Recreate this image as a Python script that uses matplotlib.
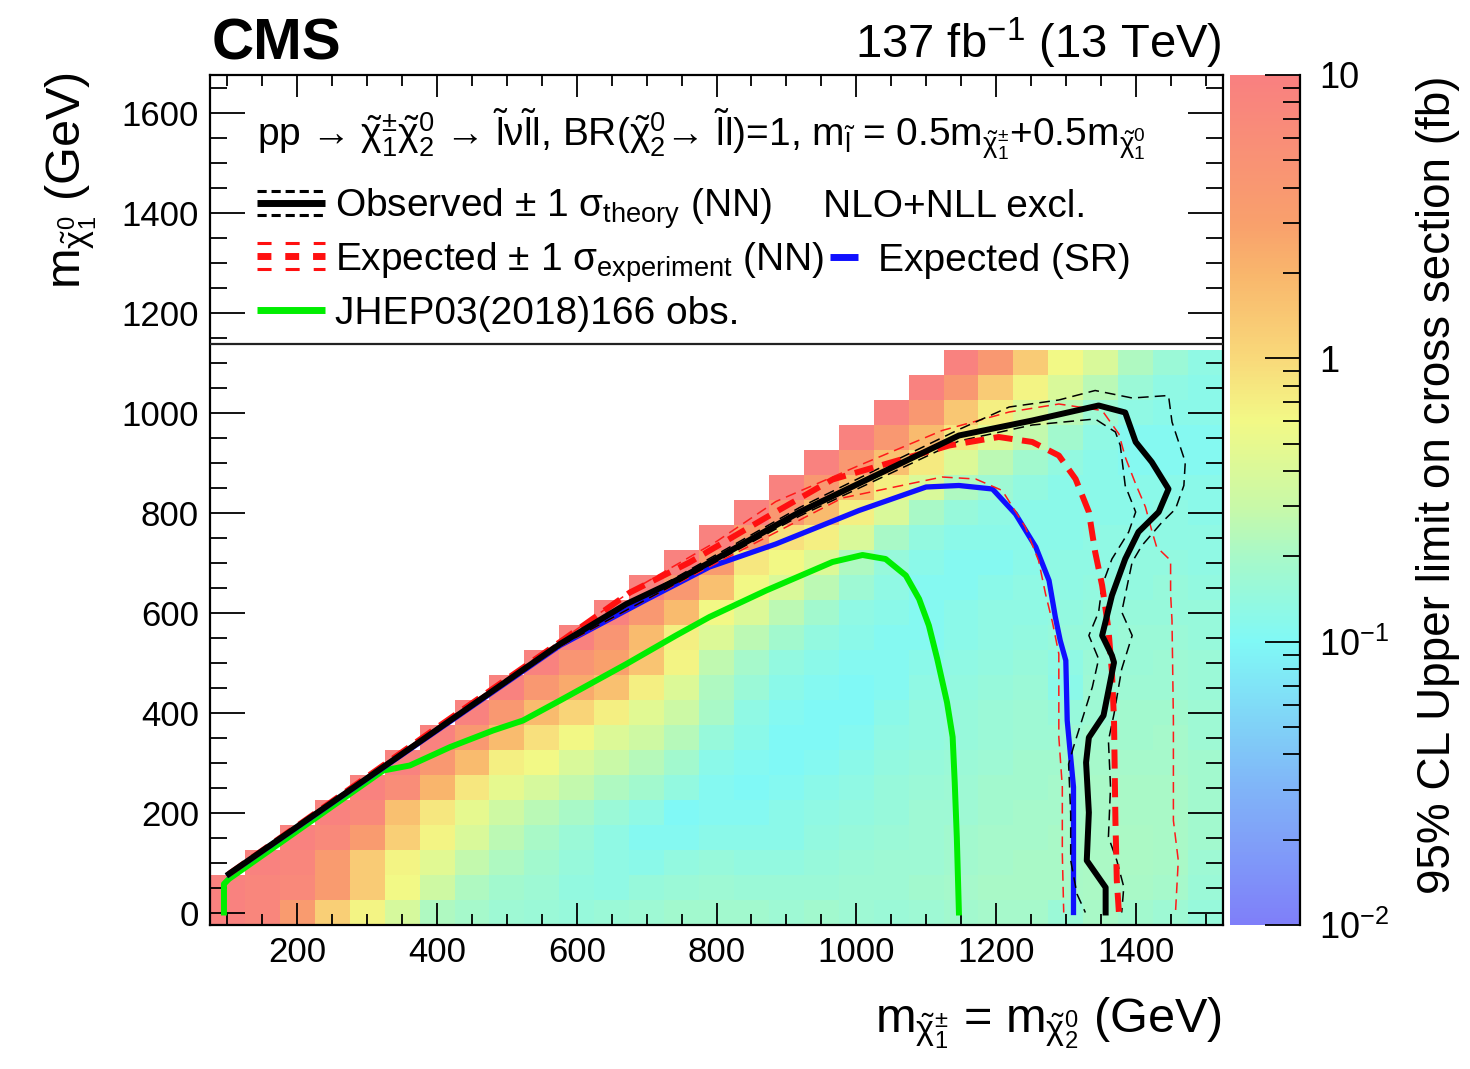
import numpy as np
import matplotlib
matplotlib.use('Agg')
import matplotlib.pyplot as plt
from matplotlib.colors import LinearSegmentedColormap, LogNorm
from matplotlib.lines import Line2D
from matplotlib.ticker import MultipleLocator, LogLocator, FixedLocator, FixedFormatter, NullFormatter

plt.rcParams['font.family'] = ['Liberation Sans', 'DejaVu Sans']
plt.rcParams['mathtext.fontset'] = 'custom'
plt.rcParams['mathtext.rm'] = 'Liberation Sans'
plt.rcParams['mathtext.it'] = 'Liberation Sans'
plt.rcParams['mathtext.sf'] = 'Liberation Sans'
plt.rcParams['mathtext.bf'] = 'Liberation Sans:bold'

# ---- data -------------------------------------------------------------
# chargino / neutralino2 mass grid (GeV) and LSP mass grid (GeV)
m_chi = [100, 150, 200, 250, 300, 350, 400, 450, 500, 550, 600, 650, 700, 750,
         800, 850, 900, 950, 1000, 1050, 1100, 1150, 1200, 1250, 1300, 1350,
         1400, 1450, 1500]
m_lsp = [0, 50, 100, 150, 200, 250, 300, 350, 400, 450, 500, 550, 600, 650,
         700, 750, 800, 850, 900, 950, 1000, 1050, 1100]

# 95% CL upper limit (fb), one list per m_chi column, starting at m_lsp = 0
limit_cols = [
    [9, 9],
    [8, 8, 9],
    [3.5, 7, 8, 9],
    [1.2, 3.5, 3.5, 7, 9],
    [0.65, 1.3, 1.3, 3.5, 7, 9],
    [0.38, 0.6, 0.65, 1.2, 1.6, 6, 9],
    [0.22, 0.33, 0.45, 0.65, 0.8, 2, 4, 9],
    [0.19, 0.22, 0.28, 0.4, 0.5, 0.8, 1.8, 4, 9],
    [0.17, 0.18, 0.22, 0.26, 0.33, 0.5, 0.7, 1.8, 4, 9],
    [0.16, 0.17, 0.18, 0.2, 0.25, 0.38, 0.6, 0.9, 1.8, 4, 9],
    [0.15, 0.14, 0.15, 0.16, 0.2, 0.28, 0.4, 0.62, 1.1, 2.5, 4.5, 9],
    [0.16, 0.13, 0.13, 0.13, 0.16, 0.22, 0.3, 0.42, 0.7, 1.6, 3, 4.5, 9],
    [0.17, 0.15, 0.12, 0.11, 0.13, 0.18, 0.24, 0.33, 0.45, 0.7, 1.5, 1.8, 4, 9],
    [0.18, 0.16, 0.14, 0.11, 0.1, 0.14, 0.18, 0.24, 0.32, 0.42, 0.65, 0.7, 1.8, 4, 9],
    [0.18, 0.17, 0.15, 0.12, 0.11, 0.11, 0.12, 0.15, 0.2, 0.22, 0.27, 0.42, 0.62, 1.6, 3.5, 9],
    [0.18, 0.16, 0.14, 0.12, 0.11, 0.1, 0.11, 0.12, 0.13, 0.16, 0.19, 0.26, 0.42, 0.62, 0.8, 3.5, 9],
    [0.17, 0.16, 0.14, 0.12, 0.12, 0.11, 0.1, 0.1, 0.11, 0.12, 0.14, 0.18, 0.26, 0.4, 0.62, 0.9, 4, 9],
    [0.18, 0.16, 0.15, 0.14, 0.13, 0.12, 0.11, 0.1, 0.1, 0.11, 0.12, 0.14, 0.18, 0.26, 0.42, 0.7, 1.8, 4, 9],
    [0.17, 0.17, 0.16, 0.15, 0.14, 0.13, 0.12, 0.11, 0.1, 0.1, 0.11, 0.12, 0.13, 0.17, 0.22, 0.4, 0.7, 1.7, 4, 9],
    [0.16, 0.17, 0.17, 0.16, 0.15, 0.15, 0.14, 0.13, 0.12, 0.11, 0.11, 0.11, 0.12, 0.13, 0.15, 0.2, 0.4, 0.7, 1.6, 4, 9],
    [0.17, 0.18, 0.17, 0.17, 0.17, 0.16, 0.15, 0.14, 0.14, 0.13, 0.12, 0.11, 0.11, 0.11, 0.12, 0.14, 0.2, 0.4, 0.75, 1.8, 4, 9],
    [0.18, 0.19, 0.18, 0.18, 0.17, 0.17, 0.16, 0.15, 0.15, 0.14, 0.13, 0.12, 0.12, 0.11, 0.11, 0.12, 0.15, 0.22, 0.42, 0.8, 1.4, 4, 9],
    [0.19, 0.2, 0.19, 0.19, 0.18, 0.18, 0.17, 0.16, 0.16, 0.15, 0.14, 0.13, 0.13, 0.12, 0.11, 0.12, 0.13, 0.17, 0.26, 0.45, 0.7, 1.3, 4],
    [0.19, 0.2, 0.2, 0.19, 0.19, 0.18, 0.18, 0.17, 0.17, 0.16, 0.15, 0.14, 0.13, 0.13, 0.12, 0.12, 0.12, 0.14, 0.18, 0.28, 0.4, 0.65, 1.3],
    [0.16, 0.2, 0.2, 0.2, 0.19, 0.19, 0.18, 0.17, 0.15, 0.12, 0.13, 0.15, 0.14, 0.13, 0.13, 0.12, 0.12, 0.12, 0.14, 0.18, 0.25, 0.4, 0.6],
    [0.2, 0.21, 0.21, 0.2, 0.2, 0.2, 0.19, 0.18, 0.17, 0.17, 0.16, 0.15, 0.15, 0.14, 0.13, 0.13, 0.12, 0.12, 0.12, 0.13, 0.17, 0.25, 0.4],
    [0.18, 0.2, 0.21, 0.21, 0.2, 0.2, 0.19, 0.18, 0.18, 0.17, 0.16, 0.16, 0.15, 0.14, 0.14, 0.13, 0.12, 0.12, 0.11, 0.11, 0.13, 0.16, 0.22],
    [0.17, 0.19, 0.2, 0.2, 0.2, 0.2, 0.19, 0.19, 0.18, 0.17, 0.17, 0.16, 0.15, 0.15, 0.14, 0.13, 0.13, 0.12, 0.11, 0.11, 0.12, 0.13, 0.16],
    [0.15, 0.16, 0.17, 0.18, 0.18, 0.18, 0.18, 0.17, 0.17, 0.16, 0.16, 0.15, 0.15, 0.14, 0.13, 0.13, 0.12, 0.12, 0.11, 0.11, 0.12, 0.12, 0.13],
]

# exclusion contours (m_chi, m_lsp) in GeV
obs_x = [102, 323, 576, 671, 742, 790, 919, 1038, 1147, 1252, 1347, 1385, 1400, 1423,
         1447, 1433, 1404, 1385, 1366, 1352, 1366, 1369, 1354, 1333, 1329, 1333, 1330,
         1357, 1357]
obs_y = [77, 291, 537, 617, 664, 700, 801, 881, 954, 984, 1014, 1000, 941, 901,
         847, 801, 761, 707, 634, 554, 514, 500, 394, 350, 300, 200, 104, 50, 0]

obs_up_x = [102, 576, 742, 919, 1038, 1147, 1219, 1290, 1342, 1395, 1447, 1452, 1471,
            1469, 1457, 1438, 1409, 1395, 1380, 1395, 1380, 1369, 1361, 1364, 1361,
            1373, 1383, 1380]
obs_up_y = [80, 541, 670, 810, 892, 966, 1011, 1025, 1044, 1029, 1034, 981, 901,
            854, 807, 781, 734, 701, 601, 554, 487, 397, 344, 251, 151, 104, 51, 0]

obs_dn_x = [102, 576, 742, 919, 1038, 1147, 1252, 1342, 1371, 1378, 1385, 1400, 1390,
            1366, 1352, 1347, 1333, 1347, 1338, 1311, 1304, 1307, 1307, 1316, 1328]
obs_dn_y = [74, 533, 658, 793, 871, 943, 975, 987, 961, 934, 854, 801, 761,
            707, 654, 601, 554, 507, 451, 331, 297, 197, 104, 37, 0]

exp_x = [102, 400, 576, 676, 761, 871, 966, 1133, 1204, 1252, 1290, 1314, 1333, 1342,
         1352, 1361, 1366, 1369, 1371, 1373, 1376]
exp_y = [77, 370, 541, 640, 700, 790, 866, 934, 951, 941, 914, 867, 801, 721,
         654, 567, 481, 384, 184, 64, 0]

exp_up_x = [102, 576, 680, 800, 885, 1004, 1123, 1219, 1290, 1352, 1376, 1385, 1400,
            1414, 1423, 1430, 1450, 1450, 1452, 1454, 1454, 1461, 1457]
exp_up_y = [80, 543, 645, 742, 822, 894, 964, 1001, 1017, 1004, 957, 911, 857,
            811, 764, 731, 704, 637, 584, 384, 184, 104, 0]

exp_dn_x = [102, 576, 700, 850, 980, 1123, 1171, 1209, 1242, 1261, 1271, 1281, 1290,
            1290, 1295, 1295, 1297]
exp_dn_y = [74, 532, 626, 735, 829, 871, 867, 844, 771, 704, 637, 580, 517, 351,
            251, 117, 0]

sr_x = [102, 576, 700, 790, 885, 1004, 1100, 1147, 1195, 1228, 1257, 1276, 1285,
        1292, 1300, 1302, 1311, 1311, 1311]
sr_y = [76, 534, 626, 691, 737, 804, 851, 854, 847, 797, 731, 664, 591, 544,
        504, 384, 251, 117, 0]

jhep_x = [95, 95, 102, 323, 361, 419, 480, 523, 576, 671, 742, 790, 871, 966, 1009,
          1042, 1071, 1090, 1104, 1116, 1130, 1138, 1141, 1144, 1147]
jhep_y = [0, 57, 67, 284, 294, 331, 364, 384, 424, 497, 554, 591, 644, 701, 715,
          707, 674, 627, 574, 507, 420, 351, 260, 150, 0]

# ---- figure -------------------------------------------------------------
W, H = 1470, 1069


def fx(px):
    return px / W


def fy(py):
    return 1 - py / H


fig = plt.figure(figsize=(W / 100, H / 100), dpi=100)
ax = fig.add_axes([fx(210), fy(925), 1013 / W, 850 / H])
cax = fig.add_axes([fx(1230), fy(925), 70 / W, 850 / H])

# colour palette (pastel rainbow, log scale 0.01 - 10 fb)
pal_vals = [0.01, 0.03, 0.1, 0.2, 0.3, 0.6, 1.0, 2.0, 3.0, 10.0]
pal_cols = ['#7f7ff9', '#80b4f8', '#80f9f6', '#a8f9c8', '#c8f9a8', '#f2f986',
            '#f9d97a', '#f9b66c', '#f9a06c', '#f98080']
pal_pos = [(np.log10(v) + 2) / 3 for v in pal_vals]
cmap = LinearSegmentedColormap.from_list('pastel', list(zip(pal_pos, pal_cols)))
norm = LogNorm(vmin=0.01, vmax=10)

Z = np.full((len(m_lsp), len(m_chi)), np.nan)
for i, col in enumerate(limit_cols):
    Z[:len(col), i] = col
Z = np.ma.masked_invalid(Z)

x_edges = np.append(np.array(m_chi) - 25, m_chi[-1] + 25)
y_edges = np.append(np.array(m_lsp) - 25, m_lsp[-1] + 25)
pc = ax.pcolormesh(x_edges, y_edges, Z, cmap=cmap, norm=norm, shading='flat', zorder=1)

# contours
thin = dict(lw=1.1, ls=(0, (7, 4)))
ax.plot(jhep_x, jhep_y, color='#00ee00', lw=4.3, zorder=3, solid_joinstyle='round')
ax.plot(sr_x, sr_y, color='#1010ff', lw=3.8, zorder=4)
ax.plot(exp_up_x, exp_up_y, color='#ff1a1a', zorder=5, **thin)
ax.plot(exp_dn_x, exp_dn_y, color='#ff1a1a', zorder=5, **thin)
ax.plot(obs_up_x, obs_up_y, color='black', zorder=5, **thin)
ax.plot(obs_dn_x, obs_dn_y, color='black', zorder=5, **thin)
ax.plot(exp_x, exp_y, color='#ff1010', lw=4.3, ls=(0, (3.2, 1.6)), zorder=6)
ax.plot(obs_x, obs_y, color='black', lw=4.3, zorder=7, solid_joinstyle='round')

ax.set_xlim(75, 1525)
ax.set_ylim(-25, 1675)

# legend frame
ax.axhline(1138, color='#222222', lw=1.6, zorder=8)

for sp in ax.spines.values():
    sp.set_linewidth(1.6)
ax.xaxis.set_major_locator(MultipleLocator(200))
ax.xaxis.set_minor_locator(MultipleLocator(50))
ax.yaxis.set_major_locator(MultipleLocator(200))
ax.yaxis.set_minor_locator(MultipleLocator(50))
ax.set_xticks([200, 400, 600, 800, 1000, 1200, 1400])
ax.tick_params(which='both', direction='in', top=True, right=True, width=1.3,
               labelsize=25)
ax.tick_params(axis='x', which='major', length=16, pad=8)
ax.tick_params(axis='x', which='minor', length=8)
ax.tick_params(axis='y', which='major', length=25, pad=8)
ax.tick_params(axis='y', which='minor', length=12)

# colour bar
cb = fig.colorbar(pc, cax=cax)
cb.outline.set_visible(False)
cax.plot([1, 1], [0, 1], transform=cax.transAxes, color='black', lw=1.6, clip_on=False)
cax.yaxis.set_major_locator(FixedLocator([0.01, 0.1, 1, 10]))
cax.yaxis.set_major_formatter(FixedFormatter([r'$10^{-2}$', r'$10^{-1}$', '1', '10']))
cax.yaxis.set_minor_locator(LogLocator(base=10, subs=range(2, 10)))
cax.yaxis.set_minor_formatter(NullFormatter())
cax.tick_params(which='both', direction='in', right=True, left=False, width=1.3,
                labelsize=26, pad=14)
cax.tick_params(which='major', length=25)
cax.tick_params(which='minor', length=12)

# texts
fig.text(fx(212), fy(60), 'CMS', fontsize=42, fontweight='bold', va='baseline')
fig.text(fx(1222), fy(58), r'137 fb$^{-1}$ (13 TeV)', fontsize=34, ha='right', va='baseline')

fig.text(fx(1222), fy(1032),
         r'm$_{\tilde{\chi}^{\pm}_{1}}$ = m$_{\tilde{\chi}^{0}_{2}}$ (GeV)',
         fontsize=35, ha='right', va='baseline')
fig.text(fx(80), fy(72), r'm$_{\tilde{\chi}^{0}_{1}}$ (GeV)', fontsize=35,
         rotation=90, rotation_mode='anchor', ha='right', va='baseline')
fig.text(fx(1450), fy(75), '95% CL Upper limit on cross section (fb)', fontsize=33,
         rotation=90, rotation_mode='anchor', ha='right', va='baseline')

proc = ('pp \u2192 $\\tilde{\\chi}^{\\pm}_{1}\\tilde{\\chi}^{0}_{2}$ \u2192 '
        '$\\tilde{l}\\nu\\tilde{l}l$, BR($\\tilde{\\chi}^{0}_{2}$\u2192 $\\tilde{l}l$)=1, '
        'm$_{\\tilde{l}}$ = 0.5m$_{\\tilde{\\chi}^{\\pm}_{1}}$+0.5m$_{\\tilde{\\chi}^{0}_{1}}$')
fig.text(fx(257), fy(146), proc, fontsize=28, va='baseline')
fig.text(fx(335), fy(217), r'Observed $\pm$ 1 $\sigma_{\mathrm{theory}}$ (NN)', fontsize=28, va='baseline')
fig.text(fx(823), fy(217), 'NLO+NLL excl.', fontsize=28, va='baseline')
fig.text(fx(335), fy(271), r'Expected $\pm$ 1 $\sigma_{\mathrm{experiment}}$ (NN)', fontsize=28, va='baseline')
fig.text(fx(878), fy(271), 'Expected (SR)', fontsize=28, va='baseline')
fig.text(fx(335), fy(324), 'JHEP03(2018)166 obs.', fontsize=28, va='baseline')


# legend samples
def sample(x0, x1, py, **kw):
    fig.add_artist(Line2D([fx(x0), fx(x1)], [fy(py), fy(py)], transform=fig.transFigure,
                          solid_capstyle='butt', dash_capstyle='butt', **kw))


sample(257, 325, 203, color='black', lw=5)
sample(257, 325, 191, color='black', lw=2.2, ls=(0, (3, 1.6)))
sample(257, 325, 215, color='black', lw=2.2, ls=(0, (3, 1.6)))
sample(257, 325, 256, color='#ff1010', lw=5, ls=(0, (2, 2)))
sample(257, 325, 243, color='#ff1010', lw=2.2, ls=(0, (4.6, 4.6)))
sample(257, 325, 269, color='#ff1010', lw=2.2, ls=(0, (4.6, 4.6)))
sample(830, 858, 257, color='#1010ff', lw=5)
sample(257, 325, 310, color='#00ee00', lw=5)

fig.savefig('out.png', dpi=100)
